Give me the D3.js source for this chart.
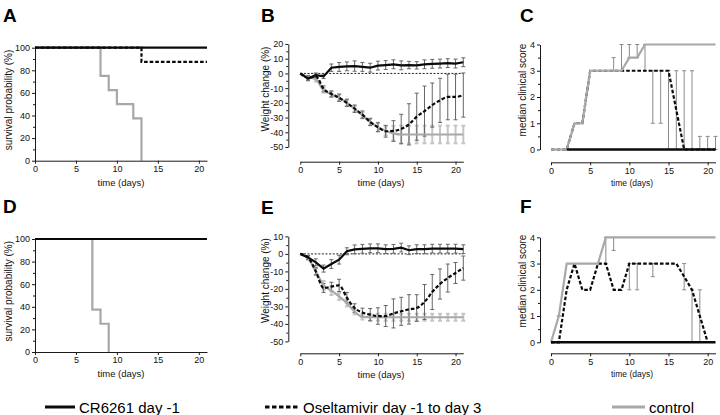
<!DOCTYPE html>
<html><head><meta charset="utf-8">
<script src="https://cdn.jsdelivr.net/npm/d3@7"></script>
<style>
body{margin:0;background:#fff}
text{font-family:"Liberation Sans",Arial,Helvetica,sans-serif}
</style>
</head><body>
<svg id="c" width="720" height="415"></svg>
<script>
// ---------------- DATA ----------------
const days = [0,1,2,3,4,5,6,7,8,9,10,11,12,13,14,15,16,17,18,19,20,21];
const xTicks = [0,5,10,15,20];
const seriesNames = ["CR6261 day -1","Oseltamivir day -1 to day 3","control"];
const panelLetters = ["A","B","C","D","E","F"];

// Survival (Kaplan-Meier steps): time points and survival %
const aCrT = [0,21], aCr = [100,100];
const aOselT = [0,13,21], aOsel = [100,87.5,87.5];
const aCtrlT = [0,8,9,10,12,13], aCtrl = [100,75,62.5,50,37.5,0];
const dCrT = [0,21], dCr = [100,100];
const dOselT = [0,21], dOsel = [100,100];
const dCtrlT = [0,7,8,9], dCtrl = [100,37.5,25,0];
const survTicks = [0,20,40,60,80,100], survMinor = [10,30,50,70,90];

// Weight change (%) per day
const bCr   = [0,-3.5,-1.2,-2,3.9,4.4,4.8,5,4.4,3.9,5.3,5.7,6.2,5.5,5.7,5.5,6.2,6.5,6.7,7,6.7,7.6];
const bCrE  = [0,1.5,1.5,1.5,2.5,3,3,3.5,3,3,3,3,3,3,2.5,2.5,3,3,3,3,3,3];
const bOsel = [0,-3,-2,-10.5,-14,-16.5,-20,-24,-28,-33,-36.5,-39.3,-39.1,-37.8,-34.6,-29.4,-25.6,-21.5,-18.3,-16,-16,-14.7];
const bOselE= [0,1.5,1.5,2,2,2.5,2.5,2.5,2.5,2.5,3,4,7,10,14,16,17,15,15,15.5,15.5,15];
const bCtrl = [0,-2.5,-4,-11.5,-14,-16.5,-20,-24,-28.5,-33,-36.5,-39,-40.7,-41.5,-41.5,-41.5,-41.5,-41.5,-41.5,-41.5,-41.5,-41.5];
const bCtrlE= [0,1,1.5,1.5,2,2,2,2,2,2,3,3,5,6,6,6,6,6,6,6,6,6];
const bTicks = [20,10,0,-10,-20,-30,-40,-50], bMinor = [15,5,-5,-15,-25,-35,-45];

const eCr   = [0,-2,-4.8,-8.4,-5.8,-3.3,1.5,2.6,2.9,3.2,3.2,2.7,2.9,3.6,2.1,2.7,2.7,3,3,3,3,2.7];
const eCrE  = [0,1,2,2,2.5,2.5,2,2.5,2.5,2.5,2.5,2.5,2.5,2.5,2.5,2.5,2.5,2.5,2.5,2.5,2.5,2.5];
const eOsel = [0,-2,-10,-19.5,-18.7,-18,-25,-31,-33.5,-34.7,-35.5,-35.5,-34,-32.8,-31.7,-30.9,-27.5,-21.8,-17.2,-13.8,-10.9,-8.1];
const eOselE= [0,1,2,2.5,2.5,3.5,3,2.5,2.5,3.5,4.7,6,8.3,8,8.4,7.6,10,10,8.6,8,6,6.9];
const eCtrl = [0,-2.5,-10,-18,-21,-24.3,-28,-33,-36,-36.2,-36.2,-36.2,-36.2,-36.2,-36.2,-36.2,-36.2,-36.2,-36.2,-36.2,-36.2,-36.2];
const eCtrlE= [0,1,2,2.5,2.5,2,2,1.5,1.5,2,2,2,2,2,2,2,2,2,2,2,2,2];
const eTicks = [10,0,-10,-20,-30,-40,-50], eMinor = [5,-5,-15,-25,-35,-45];

// Median clinical score per day
const cCr   = [null,null,0,0,0,0,0,0,0,0,0,0,0,0,0,0,0,0,0,0,0,0];
const cOsel = [0,0,0,1,1,3,3,3,3,3,3,3,3,3,3,3,1.5,0,0,0,0,0];
const cCtrl = [0,0,0,1,1,3,3,3,3,3,3.5,3.5,4,4,4,4,4,4,4,4,4,4];
const cErr  = [[8,3,3.5],[9,3,4],[10,3.5,4],[11,3.5,4],[12,3,4],[13,1,3],[14,1,3],[15,0,3],[16,0,3],[17,0,3],[18,0,3],[19,0,0.5],[20,0,0.5],[21,0,0.5]];
const fCr   = [0,0,0,0,0,0,0,0,0,0,0,0,0,0,0,0,0,0,0,0,0,0];
const fOsel = [0,0,2,3,2,2,3,3,2,2,3,3,3,3,3,3,3,2.5,2,1,0,null];
const fCtrl = [0,1,3,3,3,3,3,4,4,4,4,4,4,4,4,4,4,4,4,4,4,4];
const fErr  = [[1,1,1],[7,3,4],[8,3.5,4],[10,2,3],[11,2,3],[13,2.5,3],[17,2,3],[18,0,2],[19,0,2]];
const scoreTicks = [0,1,2,3,4], scoreMinor = [0.5,1.5,2.5,3.5];

// ---------------- DRAW ----------------
const svg = d3.select("#c");
const BLACK = "#0a0a0a", GREY = "#a8a8a8", AX = "#1a1a1a";
const LW = 2.2, DASH = "3.6,2";
const fmt = d => String(d);

function styleAxis(g){
  g.select(".domain").attr("stroke", AX).attr("stroke-width", 1);
  g.selectAll(".tick line").attr("stroke", AX).attr("stroke-width", 1);
  g.selectAll(".tick text").attr("font-size", 9).attr("fill", "#111")
    .attr("font-family", '"Liberation Sans",Arial,sans-serif');
}
function drawYAxis(x, y, major, minor, xpos){
  const g = svg.append("g").attr("transform", `translate(${xpos},0)`)
    .call(d3.axisLeft(y).tickValues(major).tickFormat(fmt).tickSize(3).tickPadding(2).tickSizeOuter(0));
  styleAxis(g);
  const gm = svg.append("g").attr("transform", `translate(${xpos},0)`)
    .call(d3.axisLeft(y).tickValues(minor).tickFormat("").tickSize(2).tickSizeOuter(0));
  gm.select(".domain").remove();
  gm.selectAll(".tick line").attr("stroke", AX);
}
function drawXAxis(x, ypos){
  const g = svg.append("g").attr("transform", `translate(0,${ypos})`)
    .call(d3.axisBottom(x).tickValues(xTicks).tickFormat(fmt).tickSize(3).tickPadding(2).tickSizeOuter(0));
  styleAxis(g);
}
function labels(xl, yl, xc, xb, yxc, yyc, xfs){
  svg.append("text").attr("x", xc).attr("y", xb).attr("text-anchor","middle")
    .attr("font-size", xfs).attr("fill","#111").text(xl);
  svg.append("text").attr("transform", `translate(${yxc},${yyc}) rotate(-90)`)
    .attr("text-anchor","middle").attr("dy","0.35em").attr("font-size",10).attr("fill","#111").text(yl);
}
function letter(t, x, y){
  svg.append("text").attr("x", x).attr("y", y).attr("font-size", 19).attr("font-weight","bold")
    .attr("fill","#000").text(t);
}
function pathLine(xs, ys, x, y, curve, color, dash){
  const pts = xs.map((d,i)=>[d, ys[i]]);
  const line = d3.line().defined(d=>d[1]!==null).x(d=>x(d[0])).y(d=>y(d[1])).curve(curve);
  const p = svg.append("path").datum(pts).attr("d", line).attr("fill","none")
    .attr("stroke", color).attr("stroke-width", LW).attr("stroke-linejoin","miter");
  if (dash) p.attr("stroke-dasharray", dash);
  return p;
}
function errBars(vals, errs, x, y, color, w){
  const g = svg.append("g");
  vals.forEach((v,i)=>{
    const e = errs[i]; if (!e || v===null) return;
    const xx = x(days[i]);
    g.append("line").attr("x1",xx).attr("x2",xx).attr("y1",y(v-e)).attr("y2",y(v+e))
      .attr("stroke",color).attr("stroke-width",w);
    [v-e, v+e].forEach(t=> g.append("line").attr("x1",xx-2).attr("x2",xx+2)
      .attr("y1",y(t)).attr("y2",y(t)).attr("stroke",color).attr("stroke-width",w));
  });
}
function rangeBars(list, x, y, color){
  const g = svg.append("g");
  list.forEach(([d,lo,hi])=>{
    const xx = x(d);
    g.append("line").attr("x1",xx).attr("x2",xx).attr("y1",y(lo)).attr("y2",y(hi))
      .attr("stroke",color).attr("stroke-width",1);
    [lo,hi].forEach(t=> g.append("line").attr("x1",xx-2).attr("x2",xx+2)
      .attr("y1",y(t)).attr("y2",y(t)).attr("stroke",color).attr("stroke-width",1));
  });
}

// Survival panels
function survival(dy, crT, cr, oT, o, cT, c, L){
  const x = d3.scaleLinear().domain([0,21]).range([35,207]);
  const y = d3.scaleLinear().domain([0,100]).range([160.7+dy, 47.7+dy]);
  pathLine(cT, c, x, y, d3.curveStepAfter, GREY);
  pathLine(oT, o, x, y, d3.curveStepAfter, BLACK, DASH);
  pathLine(crT, cr, x, y, d3.curveStepAfter, BLACK);
  drawXAxis(x, y(0));
  drawYAxis(x, y, survTicks, survMinor, 35);
  labels("time (days)", "survival probability (%)", 121, 186+dy, 8, 100+dy, 9.5);
  letter(L, 3, 22+dy);
}
survival(0, aCrT, aCr, aOselT, aOsel, aCtrlT, aCtrl, "A");
survival(191.3, dCrT, dCr, dOselT, dOsel, dCtrlT, dCtrl, "D");

// Weight panels
function weight(dy, dom, yr, ticks, minor, cr, crE, o, oE, c, cE, L){
  const x = d3.scaleLinear().domain([0,21]).range([300.3,463.3]);
  const y = d3.scaleLinear().domain(dom).range(yr);
  // zero reference
  svg.append("line").attr("x1",x(0)).attr("x2",x(21)).attr("y1",y(0)).attr("y2",y(0))
    .attr("stroke","#222").attr("stroke-width",1).attr("stroke-dasharray","2,1.6");
  errBars(c, cE, x, y, "#c6c6c6", 2);
  errBars(o, oE, x, y, "#666", 1);
  errBars(cr, crE, x, y, "#666", 1);
  pathLine(days, c, x, y, d3.curveMonotoneX, GREY);
  pathLine(days, o, x, y, d3.curveMonotoneX, BLACK, DASH);
  pathLine(days, cr, x, y, d3.curveLinear, BLACK);
  drawXAxis(x, 161.7+dy);
  drawYAxis(x, y, ticks, minor, 288.3);
  labels("time (days)", "Weight change (%)", 381, 186+dy, 265, 89+dy, 9.5);
  letter(L, 261, 22+dy);
}
weight(0, [-50,20], [147,44], bTicks, bMinor, bCr, bCrE, bOsel, bOselE, bCtrl, bCtrlE, "B");
weight(191.6, [-50,10], [341.4,236.4], eTicks, eMinor, eCr, eCrE, eOsel, eOselE, eCtrl, eCtrlE, "E");

// Clinical score panels
function score(dy, ylo, yhi, cr, o, c, err, L){
  const x = d3.scaleLinear().domain([0,21]).range([551,715.5]);
  const y = d3.scaleLinear().domain([0,4]).range([ylo, yhi]);
  rangeBars(err, x, y, "#8a8a8a");
  pathLine(days, o, x, y, d3.curveLinear, BLACK, DASH);
  pathLine(days, c, x, y, d3.curveLinear, GREY);
  pathLine(days, cr, x, y, d3.curveLinear, BLACK).attr("stroke-width", 2.6);
  drawXAxis(x, 162.3+dy);
  drawYAxis(x, y, scoreTicks, scoreMinor, 540);
  labels("time (days)", "median clinical score", 632, 186+dy, 522.7, 90+dy, 8.5);
  letter(L, 520, 22+dy);
}
score(0, 149.5, 44.5, cCr, cOsel, cCtrl, cErr, "C");
score(191, 342.3, 237.3, fCr, fOsel, fCtrl, fErr, "F");

// Legend
const legend = [
  {name: seriesNames[0], x1:45, x2:75, tx:79, color:BLACK, dash:null},
  {name: seriesNames[1], x1:265, x2:300, tx:303, color:BLACK, dash:"4.5,2.5"},
  {name: seriesNames[2], x1:612, x2:645, tx:649, color:GREY, dash:null}
];
legend.forEach(l=>{
  const ln = svg.append("line").attr("x1",l.x1).attr("x2",l.x2).attr("y1",407).attr("y2",407)
    .attr("stroke",l.color).attr("stroke-width",3);
  if (l.dash) ln.attr("stroke-dasharray", l.dash);
  svg.append("text").attr("x",l.tx).attr("y",412.5).attr("font-size",15).attr("fill","#000").text(l.name);
});
</script>
</body></html>
